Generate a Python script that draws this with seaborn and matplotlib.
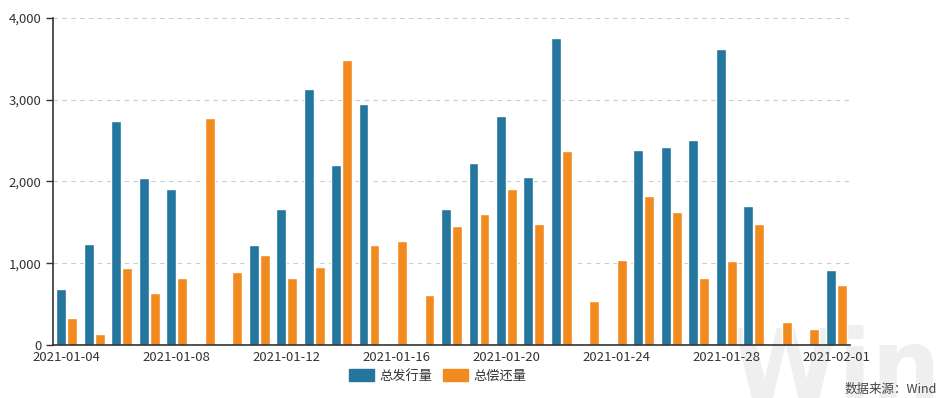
import pandas as pd
import numpy as np
import seaborn as sns
import matplotlib.pyplot as plt
from matplotlib.ticker import FuncFormatter, FixedLocator

dates = pd.date_range('2021-01-04', '2021-02-01').strftime('%Y-%m-%d').tolist()
issue = [686, 1233, 2735, 2041, 1902, 0, 0, 1224, 1665, 3135,
         2196, 2947, 0, 0, 1665, 2229, 2804, 2057, 3759, 0,
         0, 2380, 2424, 2510, 3624, 1698, 0, 0, 918]
repay = [335, 135, 939, 641, 824, 2776, 898, 1102, 816, 955,
         3490, 1224, 1273, 612, 1453, 1604, 1902, 1486, 2371, 539,
         1037, 1824, 1629, 824, 1024, 1478, 282, 196, 735]
series_names = ['总发行量', '总偿还量']
colors = ['#24769f', '#f28b1f']

df = pd.DataFrame({'date': dates * 2,
                   'value': issue + repay,
                   'series': [series_names[0]] * len(dates) + [series_names[1]] * len(dates)})

sns.set_style('white')
plt.rcParams['font.family'] = ['Noto Sans CJK SC', 'DejaVu Sans']

fig = plt.figure(figsize=(9.4, 3.98), dpi=100)
ax = fig.add_axes([0.0564, 0.1332, 0.8478, 0.8216])
ax.patch.set_alpha(0)

sns.barplot(data=df, x='date', y='value', hue='series', palette=colors,
            width=0.8, gap=0.1, ax=ax, legend=False, saturation=1)

ax.set_ylim(0, 4000)
ax.set_xlim(-0.5, len(dates) - 0.5)
ax.set_yticks([0, 1000, 2000, 3000, 4000])
ax.yaxis.set_major_formatter(FuncFormatter(lambda v, p: f'{int(v):,}'))
ax.yaxis.grid(True, linestyle=(0, (4, 4)), color='#cccccc', linewidth=0.8)
ax.set_axisbelow(True)

label_pos = list(range(0, len(dates), 4))
ax.set_xticks(label_pos)
ax.set_xticklabels([dates[i] for i in label_pos])
ax.xaxis.set_minor_locator(FixedLocator([p + 2 for p in label_pos[:-1]]))
ax.tick_params(axis='x', which='major', length=0, pad=4, labelsize=9.5, colors='#333333')
ax.tick_params(axis='x', which='minor', length=5, width=1, color='#333333', direction='out')
ax.tick_params(axis='y', length=5, width=1, color='#333333', labelsize=9.5, labelcolor='#333333', left=True)

for s in ['top', 'right']:
    ax.spines[s].set_visible(False)
for s in ['left', 'bottom']:
    ax.spines[s].set_color('#333333')
    ax.spines[s].set_linewidth(1.2)
ax.set_xlabel('')
ax.set_ylabel('')

# watermark, behind the axes
fig.text(0.778, 0.183, 'Wind', fontsize=70, fontweight='bold', color='#efefef',
         family='DejaVu Sans', ha='left', va='top', zorder=-1)

handles = [plt.Rectangle((0, 0), 1, 1, color=c) for c in colors]
fig.legend(handles, series_names, loc='center', bbox_to_anchor=(0.466, 0.055), ncol=2,
           frameon=False, fontsize=9.5, handlelength=1.9, handleheight=1.0,
           columnspacing=0.8, handletextpad=0.4, labelcolor='#333333')

fig.text(0.997, 0.022, '数据来源：Wind', fontsize=9, color='#444444', ha='right', va='center')

fig.savefig('out.png', dpi=100)
